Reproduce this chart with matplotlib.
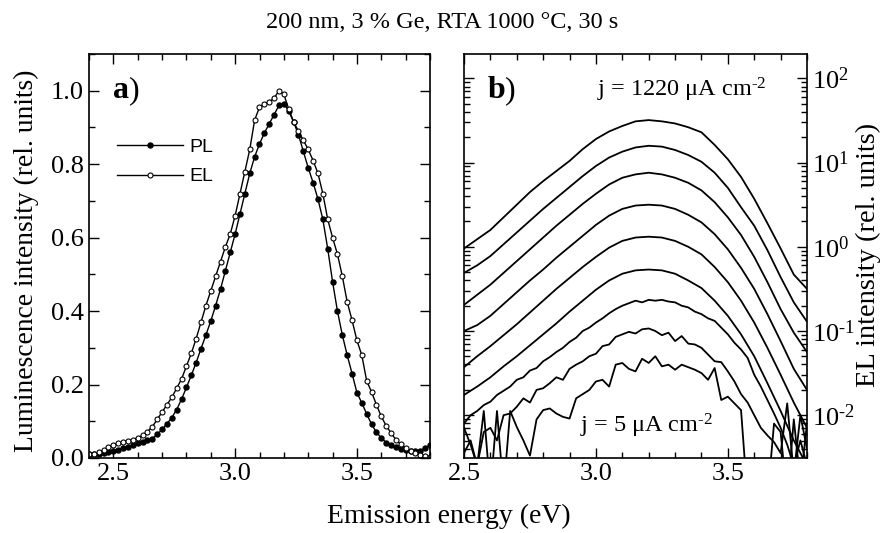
import matplotlib.pyplot as plt
import numpy as np

plt.rcParams['font.family'] = ['Liberation Serif', 'DejaVu Serif']
plt.rcParams['mathtext.fontset'] = 'custom'
plt.rcParams['mathtext.rm'] = 'Liberation Serif'
plt.rcParams['mathtext.it'] = 'Liberation Serif:italic'
plt.rcParams['mathtext.bf'] = 'Liberation Serif:bold'

# ---- panel a: normalised PL and EL spectra ----
energy_a = np.round(np.arange(2.40, 3.801, 0.02), 2)

pl = [0.010, 0.011, 0.012, 0.014, 0.017, 0.020, 0.023, 0.027, 0.031, 0.035,
      0.040, 0.044, 0.048, 0.053, 0.064, 0.078, 0.093, 0.110, 0.132, 0.160,
      0.192, 0.225, 0.260, 0.298, 0.335, 0.373, 0.415, 0.460, 0.510, 0.560,
      0.610, 0.665, 0.720, 0.775, 0.820, 0.855, 0.885, 0.910, 0.935, 0.960,
      0.965, 0.945, 0.915, 0.880, 0.835, 0.790, 0.750, 0.705, 0.650, 0.570,
      0.480, 0.400, 0.335, 0.280, 0.230, 0.178, 0.150, 0.120, 0.092, 0.070,
      0.055, 0.042, 0.035, 0.029, 0.025, 0.022, 0.020, 0.019, 0.020, 0.027,
      0.035]

el = [0.010, 0.012, 0.016, 0.022, 0.030, 0.035, 0.040, 0.044, 0.047, 0.050,
      0.055, 0.062, 0.072, 0.085, 0.105, 0.125, 0.145, 0.165, 0.190, 0.215,
      0.250, 0.285, 0.325, 0.370, 0.415, 0.455, 0.495, 0.535, 0.575, 0.610,
      0.660, 0.720, 0.780, 0.840, 0.920, 0.955, 0.965, 0.970, 0.980, 1.000,
      0.990, 0.950, 0.915, 0.890, 0.865, 0.840, 0.810, 0.775, 0.720, 0.650,
      0.600, 0.555, 0.495, 0.425, 0.375, 0.320, 0.280, 0.210, 0.180, 0.145,
      0.113, 0.088, 0.068, 0.050, 0.037, 0.028, 0.018, 0.014, 0.008, 0.006,
      0.004]

# ---- panel b: EL spectra for different current densities (log10 values) ----
energy_b = np.round(np.arange(2.50, 3.801, 0.05), 2)
energy_b_fine = np.round(np.arange(2.500, 3.8001, 0.025), 3)

log_el_1220 = [-0.02, 0.09, 0.20, 0.35, 0.50, 0.65, 0.78, 0.90, 1.02, 1.16,
               1.28, 1.37, 1.435, 1.49, 1.505, 1.49, 1.465, 1.42, 1.36, 1.21,
               1.04, 0.83, 0.57, 0.28, -0.02, -0.33, -0.50]
log_el_2 = [-0.31, -0.22, -0.11, 0.03, 0.17, 0.31, 0.45, 0.58, 0.71, 0.84,
            0.96, 1.06, 1.13, 1.18, 1.20, 1.19, 1.15, 1.09, 1.01, 0.88,
            0.70, 0.47, 0.25, -0.04, -0.36, -0.66, -0.89]
log_el_3 = [-0.69, -0.57, -0.45, -0.31, -0.17, -0.03, 0.11, 0.25, 0.38, 0.51,
            0.63, 0.74, 0.82, 0.86, 0.88, 0.86, 0.82, 0.76, 0.67, 0.53,
            0.35, 0.14, -0.12, -0.42, -0.74, -1.02, -1.25]
log_el_4 = [-1.00, -0.93, -0.82, -0.68, -0.54, -0.40, -0.27, -0.13, 0.00, 0.13,
            0.26, 0.37, 0.45, 0.49, 0.50, 0.49, 0.45, 0.38, 0.29, 0.15,
            -0.03, -0.25, -0.50, -0.80, -1.12, -1.45, -1.70]
log_el_5 = [-1.43, -1.30, -1.18, -1.05, -0.92, -0.78, -0.64, -0.50, -0.37, -0.24,
            -0.12, -0.01, 0.07, 0.11, 0.12, 0.11, 0.07, 0.00, -0.09, -0.24,
            -0.42, -0.64, -0.90, -1.20, -1.52, -1.85, -2.15]
log_el_6 = [-1.76, -1.66, -1.55, -1.42, -1.30, -1.17, -1.04, -0.91, -0.77, -0.64,
            -0.51, -0.40, -0.32, -0.28, -0.27, -0.28, -0.32, -0.40, -0.49, -0.64,
            -0.82, -1.04, -1.30, -1.62, -1.95, -2.30, -2.60]
log_el_7 = [-2.10, -2.00, -1.95, -1.88, -1.84, -1.76, -1.71, -1.66, -1.58, -1.55,
            -1.47, -1.44, -1.36, -1.31, -1.25, -1.20, -1.13, -1.08, -1.00, -0.96,
            -0.90, -0.85, -0.79, -0.74, -0.70, -0.67, -0.64, -0.66, -0.63, -0.64,
            -0.63, -0.65, -0.66, -0.70, -0.72, -0.77, -0.80, -0.85, -0.88, -0.96,
            -1.04, -1.14, -1.22, -1.32, -1.52, -1.66, -1.82, -1.98, -2.15, -2.35,
            -2.60, -2.30, -2.60]
log_el_8 = [-2.45, -2.30, -2.60, -2.20, -2.15, -2.30, -2.00, -1.98, -1.90, -1.80,
            -1.85, -1.70, -1.68, -1.62, -1.55, -1.58, -1.45, -1.40, -1.36, -1.30,
            -1.27, -1.18, -1.16, -1.07, -1.04, -1.01, -1.03, -0.98, -0.97, -1.00,
            -1.05, -1.02, -1.12, -1.06, -1.15, -1.16, -1.20, -1.28, -1.36, -1.37,
            -1.48, -1.60, -1.75, -1.85, -2.00, -2.15, -2.24, -2.32, -2.45, -1.86,
            -2.70, -2.00, -2.40]
log_el_5ua = [-2.15, -2.35, -2.60, -1.95, -2.90, -1.95, -2.90, -1.95, -2.14, -2.30,
              -2.48, -2.05, -1.94, -1.92, -1.98, -2.02, -2.04, -1.80, -1.75, -1.70,
              -1.60, -1.58, -1.66, -1.40, -1.38, -1.45, -1.48, -1.33, -1.38, -1.30,
              -1.42, -1.40, -1.46, -1.40, -1.43, -1.46, -1.50, -1.58, -1.44, -1.82,
              -1.78, -1.86, -1.94, -3.00, -3.00, -3.00, -3.00, -2.10, -2.20, -3.00,
              -2.05, -2.80, -2.10]

coarse_curves = [log_el_1220, log_el_2, log_el_3, log_el_4, log_el_5, log_el_6]
fine_curves = [log_el_7, log_el_8, log_el_5ua]


def log_label(v, pos):
    e = int(round(np.log10(v)))
    if e < 0:
        return r'$10^{\text{-}%d}$' % (-e)
    return r'$10^{%d}$' % e


fig = plt.figure(figsize=(8.84, 5.33), dpi=100)
ax1 = fig.add_axes([89/884, 75/533, 341/884, 404/533])
ax2 = fig.add_axes([464/884, 75/533, 343/884, 404/533])

# panel a
ax1.plot(energy_a, pl, '-o', color='k', lw=1.0, ms=3.6, label='PL')
ax1.plot(energy_a, el, '-o', color='k', lw=1.0, ms=3.6, mfc='white',
         mew=0.8, label='EL')
ax1.set_xlim(2.4, 3.8)
ax1.set_ylim(0, 1.1)
ax1.set_xticks([2.5, 3.0, 3.5])
ax1.set_xticks(np.arange(2.4, 3.81, 0.1), minor=True)
ax1.set_yticks(np.arange(0, 1.01, 0.2))
ax1.set_yticks(np.arange(0, 1.11, 0.1), minor=True)
ax1.yaxis.set_major_formatter(plt.FormatStrFormatter('%.1f'))
ax1.xaxis.set_major_formatter(plt.FormatStrFormatter('%.1f'))
ax1.legend(loc='upper left', bbox_to_anchor=(0.06, 0.81), frameon=False,
           handlelength=3.4, handletextpad=0.3, labelspacing=0.6,
           borderaxespad=0, prop={'family': 'Liberation Sans', 'size': 14})
ax1.text(0.07, 0.91, 'a', transform=ax1.transAxes, fontsize=23,
         fontweight='bold', va='center')
ax1.text(0.118, 0.91, ')', transform=ax1.transAxes, fontsize=23, va='center')

# panel b
for c in coarse_curves:
    ax2.plot(energy_b, np.power(10.0, c), color='k', lw=1.3)
for c in fine_curves:
    ax2.plot(energy_b_fine, np.power(10.0, c), color='k', lw=1.3)
ax2.set_yscale('log')
ax2.set_xlim(2.5, 3.8)
ax2.set_ylim(3.1e-3, 195)
ax2.yaxis.set_major_formatter(plt.FuncFormatter(log_label))
ax2.set_xticks([2.5, 3.0, 3.5])
ax2.set_xticks(np.arange(2.5, 3.81, 0.1), minor=True)
ax2.xaxis.set_major_formatter(plt.FormatStrFormatter('%.1f'))
ax2.text(0.07, 0.91, 'b', transform=ax2.transAxes, fontsize=23,
         fontweight='bold', va='center')
ax2.text(0.118, 0.91, ')', transform=ax2.transAxes, fontsize=23, va='center')
ax2.text(0.388, 0.91, r'j = 1220 μA cm$^{\text{-}2}$', transform=ax2.transAxes,
         fontsize=17.5, va='center')
ax2.text(0.338, 0.08, r'j = 5 μA cm$^{\text{-}2}$', transform=ax2.transAxes,
         fontsize=17.5, va='center')

for ax in (ax1, ax2):
    ax.tick_params(which='both', direction='in', top=True, right=True,
                   labelsize=19, width=1.0)
    ax.tick_params(which='major', length=7)
    ax.tick_params(which='minor', length=4)
    for s in ax.spines.values():
        s.set_linewidth(1.2)
ax2.tick_params(which='both', left=True, labelleft=False, labelright=True)

fig.text(0.5, 1 - 22/533, '200 nm, 3 % Ge, RTA 1000 °C, 30 s',
         ha='center', va='center', fontsize=17.5)
fig.text(449/884, 1 - 516/533, 'Emission energy (eV)', ha='center',
         va='center', fontsize=20)
fig.text(26/884, 1 - 261/533, 'Luminescence intensity (rel. units)',
         ha='center', va='center', rotation=90, fontsize=19.8)
fig.text(868/884, 1 - 255/533, 'EL intensity (rel. units)',
         ha='center', va='center', rotation=90, fontsize=20.5)

fig.savefig('out.png', dpi=100)
